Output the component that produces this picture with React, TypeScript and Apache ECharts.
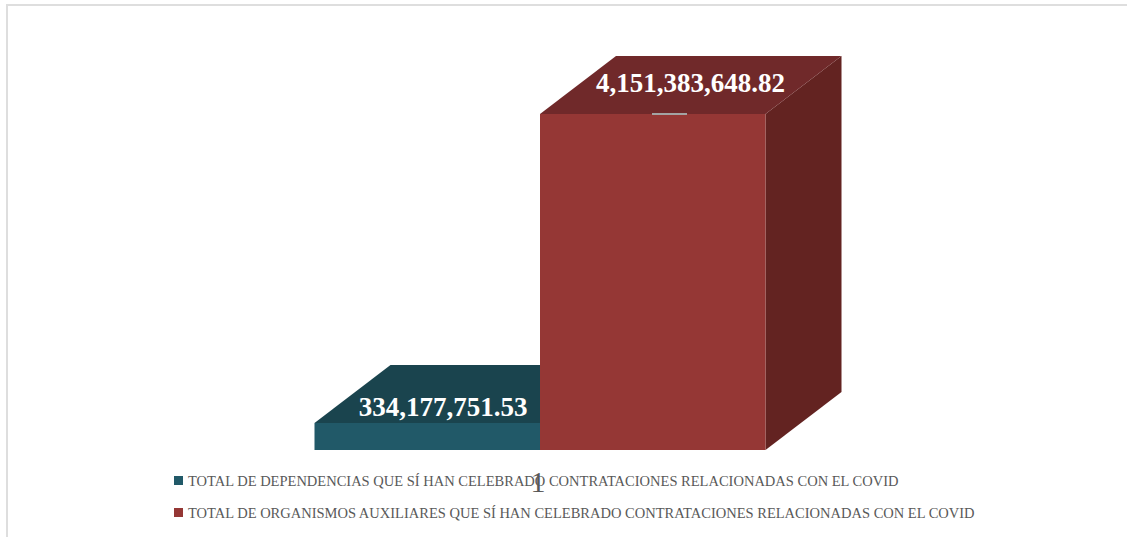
import React, { useEffect, useRef } from "react";
import * as echarts from "echarts";

const categories = ["1"];
const seriesNames = [
  "TOTAL DE DEPENDENCIAS QUE SÍ HAN CELEBRADO CONTRATACIONES RELACIONADAS CON EL COVID",
  "TOTAL DE ORGANISMOS AUXILIARES QUE SÍ HAN CELEBRADO CONTRATACIONES RELACIONADAS CON EL COVID",
];
const dependenciasValues = [334177751.53];
const organismosValues = [4151383648.82];

const FONT = "'Liberation Serif', serif";
const DEPTH_X = 76;
const DEPTH_Y = 58;

const money = (v: number) =>
  v.toLocaleString("en-US", { minimumFractionDigits: 2, maximumFractionDigits: 2 });

type BoxStyle = { front: string; top: string; side: string; labelDx: number; labelDy: number };

// One half of the category band, extruded into a box with top and side faces.
function boxRenderer(slot: number, colors: BoxStyle, leader: boolean) {
  return (params: any, api: any) => {
    const value = api.value(1);
    const base = api.coord([api.value(0), 0]);
    const head = api.coord([api.value(0), value]);
    const band = api.size([1, 0])[0];
    const x0 = base[0] - band / 2 + (slot * band) / 2;
    const x1 = x0 + band / 2;
    const yb = base[1];
    const yt = head[1];
    const children: any[] = [
      {
        type: "polygon",
        shape: { points: [[x1, yb], [x1 + DEPTH_X, yb - DEPTH_Y], [x1 + DEPTH_X, yt - DEPTH_Y], [x1, yt]] },
        style: { fill: colors.side },
      },
      {
        type: "polygon",
        shape: { points: [[x0, yt], [x0 + DEPTH_X, yt - DEPTH_Y], [x1 + DEPTH_X, yt - DEPTH_Y], [x1, yt]] },
        style: { fill: colors.top },
      },
      {
        type: "rect",
        shape: { x: x0, y: yt, width: x1 - x0, height: yb - yt },
        style: { fill: colors.front },
      },
    ];
    if (leader) {
      children.push({
        type: "rect",
        shape: { x: x0 + 112, y: yt - 1, width: 35, height: 2 },
        style: { fill: "#a3a3a3" },
      });
    }
    children.push({
      type: "text",
      x: x0 + colors.labelDx,
      y: yt + colors.labelDy,
      style: {
        text: money(value),
        fill: "#ffffff",
        font: `bold 27px ${FONT}`,
        textAlign: "center",
        textVerticalAlign: "middle",
      },
    });
    return { type: "group", children };
  };
}

export default function App() {
  const ref = useRef<HTMLDivElement>(null);
  useEffect(() => {
    const chart = echarts.init(ref.current!, undefined, { renderer: "svg" });
    chart.setOption({
      animation: false,
      backgroundColor: "#ffffff",
      grid: { left: 314.5, right: 361.5, top: 114, bottom: 87 },
      xAxis: {
        type: "category",
        data: categories,
        axisLine: { show: false },
        axisTick: { show: false },
        axisLabel: { fontFamily: FONT, fontSize: 30, color: "#595959", margin: 16, padding: [0, 4, 0, 0] },
      },
      yAxis: {
        type: "value",
        min: 0,
        max: organismosValues[0],
        show: false,
        splitLine: { show: false },
      },
      legend: {
        orient: "vertical",
        left: 169,
        top: 468,
        itemWidth: 9,
        itemHeight: 9,
        itemGap: 17,
        icon: "rect",
        textStyle: { fontFamily: FONT, fontSize: 14.5, color: "#595959" },
        data: [
          { name: seriesNames[0], itemStyle: { color: "#215968" } },
          { name: seriesNames[1], itemStyle: { color: "#953735" } },
        ],
      },
      graphic: [
        { type: "rect", shape: { x: 6, y: 4, width: 1121, height: 2 }, style: { fill: "#dedede" } },
        { type: "rect", shape: { x: 6, y: 4, width: 2, height: 533 }, style: { fill: "#dedede" } },
      ],
      series: [
        {
          name: seriesNames[0],
          type: "custom",
          clip: false,
          itemStyle: { color: "#215968" },
          encode: { x: 0, y: 1 },
          data: dependenciasValues.map((v, i) => [i, v]),
          renderItem: boxRenderer(0, { front: "#215968", top: "#1a444e", side: "#163a43", labelDx: 128.5, labelDy: -16 }, false),
        },
        {
          name: seriesNames[1],
          type: "custom",
          clip: false,
          itemStyle: { color: "#953735" },
          encode: { x: 0, y: 1 },
          data: organismosValues.map((v, i) => [i, v]),
          renderItem: boxRenderer(1, { front: "#953735", top: "#70292a", side: "#632321", labelDx: 150.5, labelDy: -31 }, true),
        },
      ],
    });
    return () => chart.dispose();
  }, []);
  return <div ref={ref} style={{ position: "absolute", left: 0, top: 0, width: 1127, height: 537 }} />;
}
